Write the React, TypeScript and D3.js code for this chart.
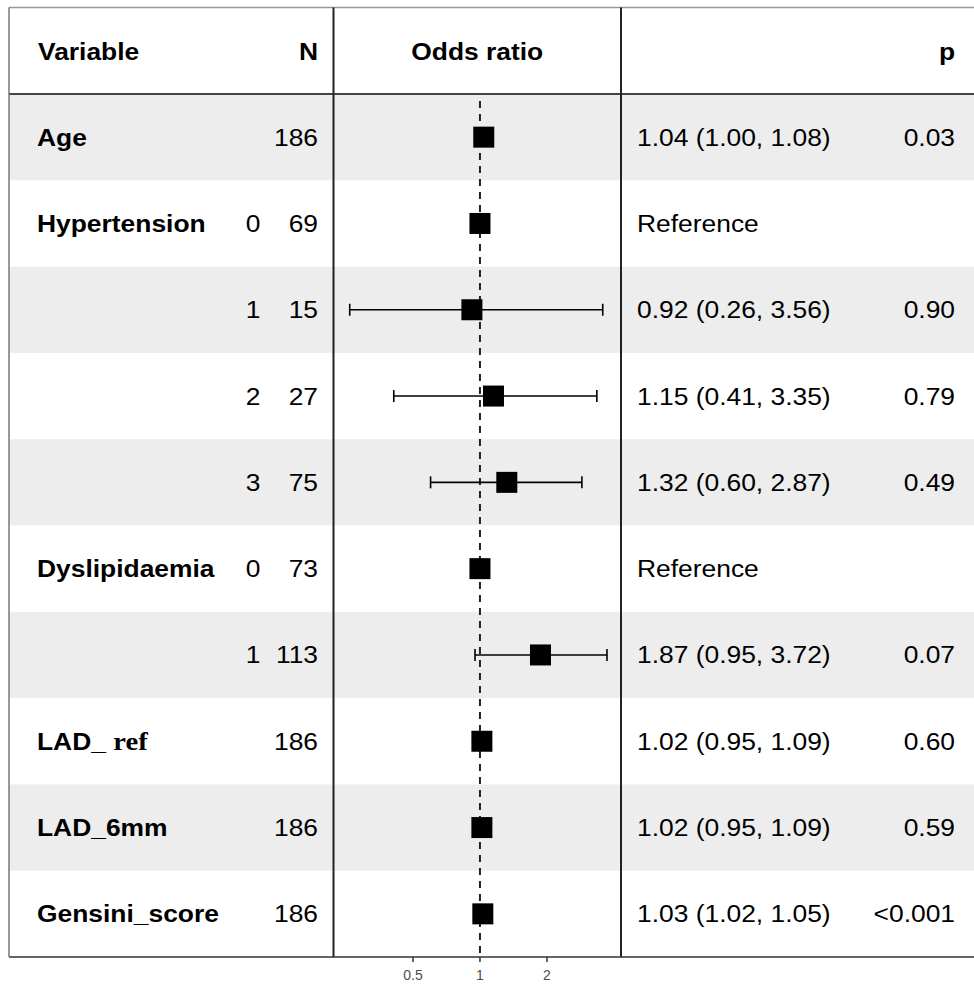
import React from "react";
import * as d3 from "d3";

const variables = ["Age", "Hypertension", "", "", "", "Dyslipidaemia", "", "LAD_ ref", "LAD_6mm", "Gensini_score"];
const levels = ["", "0", "1", "2", "3", "0", "1", "", "", ""];
const counts = [186, 69, 15, 27, 75, 73, 113, 186, 186, 186];
const oddsRatios = [1.04, 1, 0.92, 1.15, 1.32, 1, 1.87, 1.02, 1.02, 1.03];
const lowerCI = [1.0, null, 0.26, 0.41, 0.6, null, 0.95, 0.95, 0.95, 1.02];
const upperCI = [1.08, null, 3.56, 3.35, 2.87, null, 3.72, 1.09, 1.09, 1.05];
const estimateLabels = [
  "1.04 (1.00, 1.08)", "Reference", "0.92 (0.26, 3.56)", "1.15 (0.41, 3.35)", "1.32 (0.60, 2.87)",
  "Reference", "1.87 (0.95, 3.72)", "1.02 (0.95, 1.09)", "1.02 (0.95, 1.09)", "1.03 (1.02, 1.05)",
];
const pValues = ["0.03", "", "0.90", "0.79", "0.49", "", "0.07", "0.60", "0.59", "<0.001"];
const tickValues = [0.5, 1, 2];

const W = 974;
const H = 985;
const FONT = "'Liberation Sans', Arial, sans-serif";
const FS = 24;
const SX = 1.1; // text in the picture is a bit wider than tall

const Txt = ({ x, y, anchor = "start", bold = false, children }: any) => (
  <text
    transform={`translate(${x},${y}) scale(${SX},1)`}
    textAnchor={anchor}
    fontFamily={FONT}
    fontSize={FS}
    fontWeight={bold ? "bold" : "normal"}
    fill="#000"
  >
    {children}
  </text>
);

const App = () => {
  const top = 7.5;
  const headBottom = 94;
  const bottom = 957;
  const left = 9;
  const div1 = 333.5;
  const div2 = 621;

  const y = d3.scaleBand<number>().domain(d3.range(variables.length)).range([headBottom, bottom]);
  const x = d3.scaleLog().domain([0.221, 4.3]).range([334, 621]);
  const bw = y.bandwidth();
  const box = 21;
  const cap = 6;

  return (
    <svg width={W} height={H} style={{ position: "absolute", left: 0, top: 0, background: "#fff" }}>
      <rect x={0} y={0} width={W} height={H} fill="#fff" />

      {/* striped rows */}
      {variables.map((_, i) =>
        i % 2 === 0 ? (
          <rect key={`bg-${i}`} x={left} y={y(i)} width={W - left} height={bw} fill="#ededed" />
        ) : null
      )}

      {/* header */}
      <Txt x={38} y={60} bold>Variable</Txt>
      <Txt x={318} y={60} anchor="end" bold>N</Txt>
      <Txt x={(div1 + div2) / 2} y={60} anchor="middle" bold>Odds ratio</Txt>
      <Txt x={955} y={60} anchor="end" bold>p</Txt>

      {/* reference line */}
      <line x1={x(1)} x2={x(1)} y1={101} y2={bottom} stroke="#222" strokeWidth={2} strokeDasharray="7,6" />

      {variables.map((v, i) => {
        const cy = (y(i) as number) + bw / 2;
        const base = cy + 8.5;
        const lo = lowerCI[i];
        const hi = upperCI[i];
        return (
          <g key={`row-${i}`}>
            {v === "LAD_ ref" ? (
              <text
                transform={`translate(37,${base}) scale(${SX},1)`}
                fontFamily={FONT}
                fontSize={FS}
                fontWeight="bold"
              >
                LAD_ <tspan fontFamily="'Liberation Serif', 'Times New Roman', serif" fontSize={FS + 2}>ref</tspan>
              </text>
            ) : (
              <Txt x={37} y={base} bold>{v}</Txt>
            )}
            {levels[i] && <Txt x={253} y={base} anchor="middle">{levels[i]}</Txt>}
            <Txt x={318} y={base} anchor="end">{counts[i]}</Txt>

            {lo != null && hi != null && (
              <g stroke="#000" strokeWidth={1.6}>
                <line x1={x(lo)} x2={x(hi)} y1={cy} y2={cy} />
                <line x1={x(lo)} x2={x(lo)} y1={cy - cap} y2={cy + cap} />
                <line x1={x(hi)} x2={x(hi)} y1={cy - cap} y2={cy + cap} />
              </g>
            )}
            <rect x={x(oddsRatios[i]) - box / 2} y={cy - box / 2} width={box} height={box} fill="#000" />

            <Txt x={637} y={base}>{estimateLabels[i]}</Txt>
            {pValues[i] && <Txt x={955} y={base} anchor="end">{pValues[i]}</Txt>}
          </g>
        );
      })}

      {/* table rules */}
      <line x1={left} x2={W} y1={top} y2={top} stroke="#999" strokeWidth={1.5} />
      <line x1={left} x2={W} y1={headBottom} y2={headBottom} stroke="#444" strokeWidth={2} />
      <line x1={left} x2={W} y1={bottom} y2={bottom} stroke="#666" strokeWidth={2} />
      <line x1={left} x2={left} y1={top} y2={bottom} stroke="#777" strokeWidth={1.5} />
      <line x1={div1} x2={div1} y1={top} y2={bottom} stroke="#222" strokeWidth={2} />
      <line x1={div2} x2={div2} y1={top} y2={bottom} stroke="#222" strokeWidth={2} />

      {/* x axis */}
      {tickValues.map((t) => (
        <g key={`tick-${t}`}>
          <line x1={x(t)} x2={x(t)} y1={bottom} y2={bottom + 5} stroke="#333" strokeWidth={1.5} />
          <text
            x={x(t)}
            y={bottom + 23}
            textAnchor="middle"
            fontFamily={FONT}
            fontSize={14}
            fill="#4d4d4d"
          >
            {t}
          </text>
        </g>
      ))}
    </svg>
  );
};

export default App;
